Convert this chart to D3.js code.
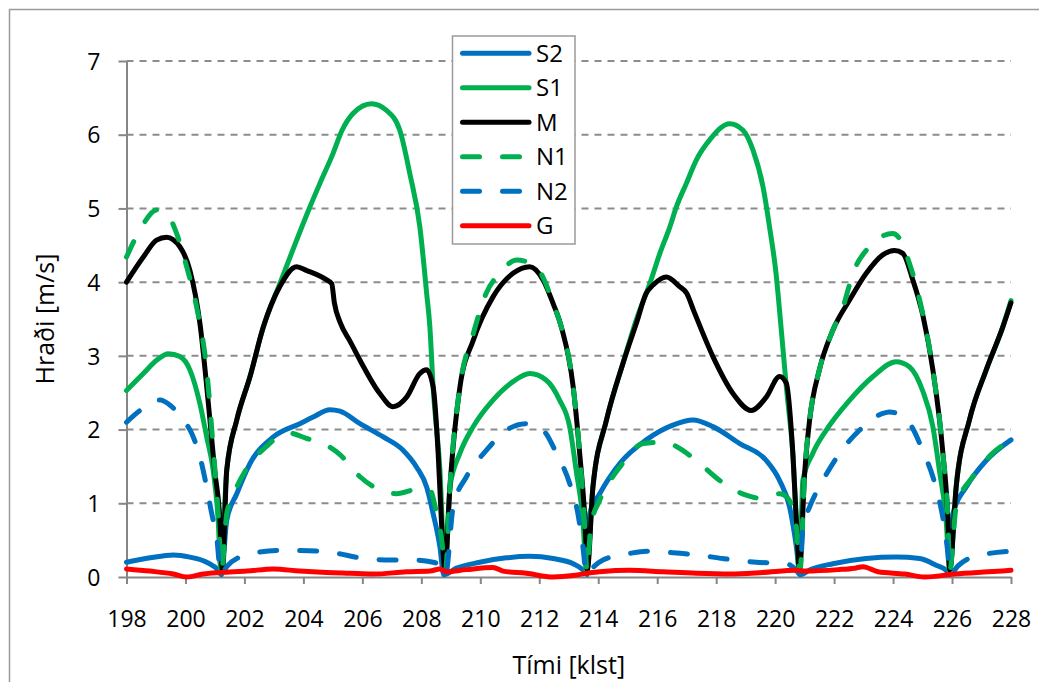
<!DOCTYPE html>
<html>
<head>
<meta charset="utf-8">
<script src="https://cdn.jsdelivr.net/npm/d3@7"></script>
<style>
    body { margin: 0; background: #fff; }
    svg text { font-family: "Open Sans", "Noto Sans", sans-serif; fill: #000; }
</style>
</head>
<body>
<div id="chart"></div>
<script>
// x-axis ticks and y-axis ticks
var hourTicks = [198, 200, 202, 204, 206, 208, 210, 212, 214, 216, 218, 220, 222, 224, 226, 228];
var speedTicks = [0, 1, 2, 3, 4, 5, 6, 7];

// series names and colours, in drawing order
var seriesNames = ['S2', 'S1', 'M', 'N1', 'N2', 'G'];
var seriesColor = ['#0070c0', '#00b050', '#000000', '#00b050', '#0070c0', '#ff0000'];
var seriesDashed = [false, false, false, true, true, false];

// [klst, m/s]
var dataS2 = [[198, 0.2], [198.8, 0.26], [199.59, 0.3], [200.15, 0.27], [200.72, 0.2], [201.11, 0.09], [201.22, 0.03],
    [201.4, 0.77], [201.74, 1.13], [202.19, 1.54], [202.98, 1.9], [203.88, 2.08], [204.33, 2.17], [204.9, 2.27],
    [205.24, 2.25], [205.92, 2.08], [206.71, 1.9], [207.38, 1.72], [207.84, 1.49], [208.18, 1.22], [208.4, 0.86],
    [208.63, 0.41], [208.76, 0.03], [209.19, 0.12], [209.98, 0.2], [210.88, 0.26], [211.68, 0.28], [212.47, 0.25],
    [213.15, 0.18], [213.5, 0.09], [213.62, 0.03], [213.71, 0.86], [214.05, 1.13], [214.73, 1.54], [215.63, 1.86],
    [216.53, 2.06], [217.21, 2.13], [217.89, 2.04], [218.8, 1.81], [219.7, 1.58], [220.15, 1.31], [220.49, 0.95],
    [220.72, 0.41], [220.84, 0.03], [221.2, 0.1], [221.96, 0.18], [223.09, 0.25], [224.1, 0.27], [224.9, 0.25],
    [225.46, 0.16], [225.8, 0.09], [225.92, 0.03], [226.03, 0.86], [226.48, 1.22], [227.16, 1.58], [228, 1.86]];

var dataS1 = [[198, 2.53], [198.57, 2.76], [199.02, 2.94], [199.42, 3.03], [199.81, 2.99], [200.15, 2.81], [200.49, 2.35],
    [200.72, 1.9], [200.94, 1.45], [201.11, 0.77], [201.2, 0.08], [201.4, 1.45], [201.74, 2.13], [202.19, 2.72],
    [202.64, 3.39], [203.2, 3.98], [203.77, 4.57], [204.22, 5.02], [204.56, 5.34], [205.01, 5.75], [205.3, 6.05],
    [205.69, 6.29], [206.31, 6.42], [206.82, 6.33], [207.27, 6.06], [207.61, 5.47], [207.95, 4.75], [208.18, 3.85],
    [208.29, 3.39], [208.4, 2.58], [208.63, 1.45], [208.8, 0.08], [208.97, 1.22], [209.31, 1.68], [209.76, 2.04],
    [210.43, 2.4], [211.11, 2.65], [211.68, 2.76], [212.24, 2.67], [212.69, 2.4], [213.03, 2.04], [213.25, 1.45],
    [213.48, 0.77], [213.6, 0.08], [213.82, 1.22], [214.28, 2.13], [214.84, 2.9], [215.3, 3.5], [215.75, 3.98],
    [216.09, 4.39], [216.43, 4.75], [216.65, 5.02], [216.99, 5.34], [217.33, 5.66], [217.78, 5.93], [218.46, 6.15],
    [218.91, 6.06], [219.25, 5.79], [219.59, 5.29], [219.81, 4.75], [220.03, 4.12], [220.2, 3.39], [220.38, 2.58],
    [220.6, 1.68], [220.83, 0.08], [220.94, 1.31], [221.28, 1.68], [221.73, 1.99], [222.53, 2.4], [223.32, 2.72],
    [224.1, 2.92], [224.56, 2.85], [225, 2.53], [225.35, 2.04], [225.57, 1.45], [225.8, 0.77], [225.92, 0.08],
    [226.14, 1.22], [226.59, 2.13], [227.16, 2.81], [227.72, 3.39], [228, 3.75]];

var dataM = [[198, 4.0], [198.57, 4.34], [199.02, 4.57], [199.36, 4.61], [199.81, 4.48], [200.15, 4.16], [200.49, 3.44],
    [200.83, 2.13], [200.99, 1.45], [201.17, 0.77], [201.25, 0.1], [201.4, 1.45], [201.74, 2.13], [202.19, 2.72],
    [202.64, 3.39], [203.2, 3.94], [203.77, 4.21], [204.1, 4.16], [204.79, 4.03], [204.96, 3.98], [205.05, 3.72],
    [205.25, 3.45], [205.58, 3.2], [205.92, 2.94], [206.59, 2.49], [207.04, 2.31], [207.5, 2.44], [207.95, 2.76],
    [208.18, 2.81], [208.4, 2.58], [208.57, 1.68], [208.68, 0.77], [208.8, 0.1], [208.97, 1.22], [209.31, 2.58],
    [209.76, 3.21], [210.43, 3.8], [211.11, 4.12], [211.68, 4.21], [212.13, 4.03], [212.47, 3.71], [212.75, 3.39],
    [213.15, 2.58], [213.37, 1.68], [213.55, 0.77], [213.63, 0.1], [213.82, 1.22], [214.28, 2.13], [214.84, 2.9],
    [215.3, 3.45], [215.63, 3.85], [215.86, 3.96], [216.31, 4.07], [216.76, 3.94], [217, 3.85], [217.25, 3.6],
    [217.89, 2.99], [218.57, 2.49], [219.19, 2.26], [219.7, 2.44], [220.15, 2.72], [220.38, 2.63], [220.6, 1.68],
    [220.72, 0.77], [220.83, 0.1], [221, 1.4], [221.17, 2.13], [221.5, 2.81], [221.96, 3.35], [222.53, 3.76],
    [223.09, 4.12], [223.65, 4.37], [224.05, 4.43], [224.33, 4.39], [224.67, 4.03], [225.01, 3.55], [225.35, 2.81],
    [225.69, 1.68], [225.86, 0.77], [225.92, 0.1], [226.14, 1.22], [226.59, 2.13], [227.16, 2.81], [227.72, 3.39],
    [228, 3.72]];

var dataN1 = [[198, 4.34], [198.46, 4.71], [199.02, 4.98], [199.36, 4.93], [199.7, 4.66], [200.04, 4.21], [200.38, 3.66],
    [200.72, 2.81], [200.95, 1.7], [201.12, 0.8], [201.22, 0.08], [201.4, 0.86], [201.74, 1.22], [202.19, 1.54],
    [202.75, 1.77], [203.2, 1.92], [203.54, 1.95], [204.1, 1.88], [204.67, 1.81], [205.24, 1.66], [205.92, 1.36],
    [206.59, 1.18], [207.16, 1.13], [207.95, 1.2], [208.29, 1.18], [208.52, 0.86], [208.68, 0.54], [208.82, 0.08],
    [208.97, 1.22], [209.31, 2.58], [209.76, 3.3], [210.2, 3.85], [210.66, 4.12], [211.23, 4.3], [211.9, 4.21],
    [212.2, 4.0], [212.47, 3.71], [212.75, 3.39], [213.15, 2.58], [213.37, 1.68], [213.53, 0.77], [213.62, 0.08],
    [213.75, 0.7], [214.05, 1.04], [214.73, 1.49], [215.52, 1.81], [216.31, 1.83], [216.65, 1.77], [217.33, 1.58],
    [218.12, 1.31], [219.02, 1.11], [219.47, 1.07], [220.15, 1.13], [220.43, 1.07], [220.72, 0.68], [220.84, 0.08],
    [221, 1.4], [221.17, 2.13], [221.5, 2.81], [221.96, 3.35], [222.3, 3.66], [222.64, 4.12], [223.2, 4.48],
    [223.99, 4.66], [224.22, 4.59], [224.56, 4.25], [224.9, 3.76], [225.35, 2.81], [225.69, 1.68], [225.86, 0.77],
    [225.92, 0.08], [226.14, 0.95], [226.7, 1.36], [227.38, 1.68], [228, 1.86]];

var dataN2 = [[198, 2.1], [198.46, 2.26], [199.14, 2.4], [199.48, 2.33], [199.93, 2.13], [200.21, 1.95], [200.49, 1.63],
    [200.72, 1.22], [200.89, 0.86], [201.06, 0.54], [201.2, 0.03], [201.4, 0.14], [202.08, 0.3], [203.2, 0.36],
    [203.88, 0.36], [205.01, 0.33], [205.92, 0.26], [206.93, 0.23], [207.72, 0.23], [208.4, 0.2], [208.74, 0.12],
    [208.82, 0.03], [209.08, 0.95], [209.53, 1.36], [210.21, 1.72], [210.88, 1.99], [211.56, 2.08], [212.13, 1.99],
    [212.58, 1.68], [213.03, 1.27], [213.31, 0.86], [213.48, 0.41], [213.6, 0.03], [213.8, 0.12], [214.16, 0.23],
    [215.07, 0.32], [215.63, 0.35], [216.53, 0.33], [217.33, 0.3], [218.23, 0.25], [219.36, 0.2], [220.38, 0.18],
    [220.72, 0.09], [220.85, 0.03], [220.94, 0.68], [221.17, 0.95], [221.62, 1.31], [222.19, 1.68], [222.86, 1.99],
    [223.65, 2.22], [223.87, 2.24], [224.56, 2.08], [225, 1.72], [225.35, 1.36], [225.57, 1.04], [225.74, 0.68],
    [225.86, 0.32], [225.93, 0.03], [226.2, 0.15], [226.7, 0.27], [228, 0.35]];

var dataG = [[198, 0.11], [198.8, 0.08], [199.59, 0.04], [200.04, 0.0], [200.6, 0.04], [201.17, 0.06], [202.08, 0.08],
    [202.98, 0.11], [203.88, 0.08], [204.79, 0.06], [205.58, 0.05], [206.37, 0.04], [207.5, 0.07], [208.29, 0.08],
    [208.63, 0.11], [208.85, 0.07], [209.53, 0.1], [210.43, 0.13], [210.77, 0.08], [211.56, 0.05], [212.47, 0.0],
    [213.15, 0.02], [213.6, 0.05], [214.05, 0.07], [215.07, 0.09], [216.2, 0.07], [217.33, 0.05], [218.46, 0.04],
    [219.58, 0.06], [220.72, 0.09], [221, 0.08], [222.13, 0.1], [222.7, 0.12], [222.98, 0.14], [223.49, 0.07],
    [224.4, 0.04], [225.07, 0.0], [226.09, 0.04], [227.22, 0.07], [228, 0.09]];

var seriesData = [dataS2, dataS1, dataM, dataN1, dataN2, dataG];

var width = 1039,
    height = 682;
var plotLeft = 126.5,
    plotRight = 1011,
    plotTop = 61,
    plotBottom = 577;

var svg = d3.select('#chart').append('svg')
    .attr('width', width)
    .attr('height', height);

// outer chart border (runs off the right and bottom edge)
svg.append('rect')
    .attr('x', 9.5)
    .attr('y', 9.5)
    .attr('width', 1060)
    .attr('height', 700)
    .attr('fill', '#fff')
    .attr('stroke', '#9a9a9a')
    .attr('stroke-width', 1.5);

var x = d3.scaleLinear().domain([198, 228]).range([plotLeft, plotRight]);
var y = d3.scaleLinear().domain([0, 7]).range([plotBottom, plotTop]);

// dashed grid lines
svg.append('g')
    .selectAll('line')
    .data(speedTicks.filter(function(d) { return d > 0; }))
    .enter()
    .append('line')
    .attr('x1', plotLeft)
    .attr('x2', plotRight)
    .attr('y1', function(d) { return y(d); })
    .attr('y2', function(d) { return y(d); })
    .attr('stroke', '#8c8c8c')
    .attr('stroke-width', 2)
    .attr('stroke-dasharray', '7,6');

// axes
var xAxis = svg.append('g')
    .attr('transform', 'translate(0,' + plotBottom + ')')
    .call(d3.axisBottom(x).tickValues(hourTicks).tickSize(7).tickSizeOuter(0).tickFormat(d3.format('d')));
xAxis.selectAll('text')
    .attr('y', 50)
    .attr('dy', 0)
    .style('font-size', '23px');

var yAxis = svg.append('g')
    .attr('transform', 'translate(' + plotLeft + ',0)')
    .call(d3.axisLeft(y).tickValues(speedTicks).tickSize(8).tickSizeOuter(0).tickFormat(d3.format('d')));
yAxis.selectAll('text')
    .attr('x', -26)
    .attr('dy', '0.36em')
    .style('font-size', '23px');

svg.selectAll('.domain, .tick line')
    .attr('stroke', '#868686')
    .attr('stroke-width', 2);

// lines
var line = d3.line()
    .x(function(d) { return x(d[0]); })
    .y(function(d) { return y(d[1]); })
    .curve(d3.curveMonotoneX);

var lines = svg.append('g').attr('class', 'lines');
for (var i = 0; i < seriesData.length; i++) {
    lines.append('path')
        .datum(seriesData[i])
        .attr('d', line)
        .attr('fill', 'none')
        .attr('stroke', seriesColor[i])
        .attr('stroke-width', 5)
        .attr('stroke-linejoin', 'round')
        .attr('stroke-linecap', 'round')
        .attr('stroke-dasharray', seriesDashed[i] ? '17,23' : null);
}

// axis titles
svg.append('text')
    .attr('x', (plotLeft + plotRight) / 2)
    .attr('y', 674)
    .attr('text-anchor', 'middle')
    .style('font-size', '25px')
    .text('Tími [klst]');

svg.append('text')
    .attr('transform', 'translate(54,' + (plotTop + plotBottom) / 2 + ') rotate(-90)')
    .attr('text-anchor', 'middle')
    .style('font-size', '25px')
    .text('Hraði [m/s]');

// legend
var legend = svg.append('g').attr('class', 'legend');
legend.append('rect')
    .attr('x', 452.5)
    .attr('y', 36)
    .attr('width', 122.5)
    .attr('height', 208)
    .attr('fill', '#fff')
    .attr('stroke', '#9a9a9a')
    .attr('stroke-width', 1.5);

var legendItem = legend.selectAll('.item')
    .data(seriesNames)
    .enter()
    .append('g')
    .attr('class', 'item')
    .attr('transform', function(d, i) { return 'translate(0,' + (53.3 + i * 34.5) + ')'; });

legendItem.append('line')
    .attr('x1', 462.5)
    .attr('x2', 529)
    .attr('stroke', function(d, i) { return seriesColor[i]; })
    .attr('stroke-width', 5)
    .attr('stroke-linecap', 'round')
    .attr('stroke-dasharray', function(d, i) { return seriesDashed[i] ? '17,23' : null; });

legendItem.append('text')
    .attr('x', 536)
    .attr('dy', '0.36em')
    .style('font-size', '24px')
    .text(function(d) { return d; });
</script>
</body>
</html>
